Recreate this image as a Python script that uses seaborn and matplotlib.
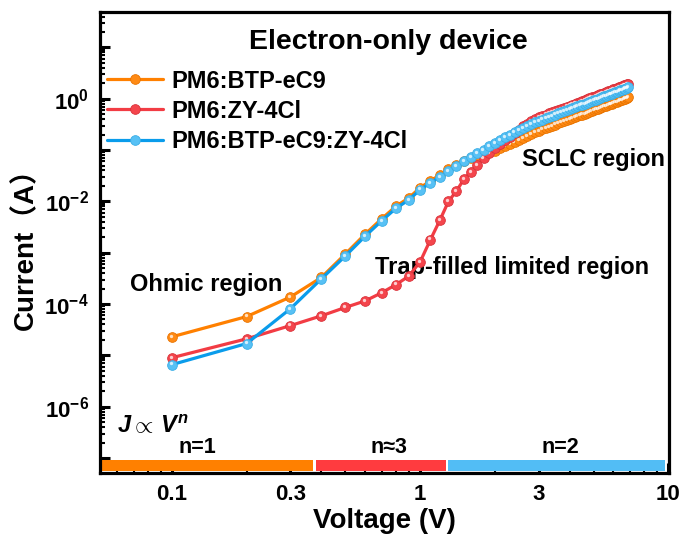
import numpy as np
import pandas as pd
import matplotlib
matplotlib.use("Agg")
import matplotlib.pyplot as plt
import matplotlib.transforms as mtransforms
from matplotlib.lines import Line2D
from matplotlib.ticker import LogLocator, FixedLocator, FuncFormatter, NullFormatter
import seaborn as sns

# ---------------- data ----------------
voltage = [0.1, 0.2, 0.3, 0.4, 0.5, 0.6, 0.7, 0.8, 0.9, 1.0,
           1.1, 1.2, 1.3, 1.4, 1.5, 1.6, 1.7, 1.8, 1.9, 2.0,
           2.1, 2.2, 2.3, 2.4, 2.5, 2.6, 2.7, 2.8, 2.9, 3.0,
           3.1, 3.2, 3.3, 3.4, 3.5, 3.6, 3.7, 3.8, 3.9, 4.0,
           4.1, 4.2, 4.3, 4.4, 4.5, 4.6, 4.7, 4.8, 4.9, 5.0,
           5.1, 5.2, 5.3, 5.4, 5.5, 5.6, 5.7, 5.8, 5.9, 6.0,
           6.1, 6.2, 6.3, 6.4, 6.5, 6.6, 6.7, 6.8, 6.9]

current_btp = [2.3e-5, 5.7e-5, 1.37e-4, 3.3e-4, 9.5e-4, 2.3e-3, 4.6e-3, 8.1e-3, 1.17e-2, 1.86e-2,
               2.5e-2, 3.3e-2, 4.2e-2, 5.1e-2, 6.2e-2, 7.1e-2, 7.9e-2, 8.7e-2, 9.3e-2, 0.0975,
               0.1085, 0.120, 0.133, 0.146, 0.159, 0.174, 0.189, 0.204, 0.221, 0.238,
               0.252, 0.267, 0.282, 0.298, 0.314, 0.330, 0.347, 0.364, 0.381, 0.399,
               0.417, 0.436, 0.454, 0.474, 0.493, 0.513, 0.534, 0.554, 0.575, 0.596,
               0.618, 0.640, 0.662, 0.685, 0.708, 0.732, 0.755, 0.779, 0.803, 0.828,
               0.853, 0.878, 0.904, 0.930, 0.956, 0.983, 1.010, 1.037, 1.064]

current_zy = [9.0e-6, 2.1e-5, 3.8e-5, 5.9e-5, 8.6e-5, 1.15e-4, 1.66e-4, 2.4e-4, 3.5e-4, 6.7e-4,
              1.8e-3, 4.3e-3, 1.0e-2, 1.6e-2, 2.7e-2, 3.8e-2, 5.2e-2, 6.9e-2, 8.9e-2, 0.108,
              0.130, 0.155, 0.183, 0.215, 0.250, 0.288, 0.326, 0.366, 0.402, 0.436,
              0.465, 0.492, 0.520, 0.550, 0.579, 0.609, 0.640, 0.671, 0.703, 0.736,
              0.769, 0.804, 0.838, 0.873, 0.910, 0.946, 0.984, 1.022, 1.061, 1.100,
              1.140, 1.180, 1.221, 1.263, 1.306, 1.349, 1.392, 1.436, 1.481, 1.527,
              1.573, 1.619, 1.667, 1.715, 1.763, 1.812, 1.862, 1.913, 1.962]

current_blend = [6.6e-6, 1.7e-5, 8.1e-5, 3.1e-4, 8.7e-4, 2.1e-3, 4.2e-3, 7.4e-3, 1.07e-2, 1.7e-2,
                 2.29e-2, 3.02e-2, 3.89e-2, 4.9e-2, 6.03e-2, 7.24e-2, 8.71e-2, 0.102, 0.120, 0.138,
                 0.158, 0.178, 0.200, 0.221, 0.245, 0.269, 0.295, 0.320, 0.347, 0.372,
                 0.394, 0.417, 0.441, 0.466, 0.491, 0.516, 0.542, 0.569, 0.596, 0.624,
                 0.652, 0.681, 0.710, 0.740, 0.771, 0.802, 0.834, 0.866, 0.899, 0.932,
                 0.966, 1.000, 1.035, 1.070, 1.107, 1.143, 1.180, 1.217, 1.255, 1.294,
                 1.333, 1.372, 1.413, 1.453, 1.494, 1.536, 1.578, 1.621, 1.663]

series_labels = ["PM6:BTP-eC9", "PM6:ZY-4Cl", "PM6:BTP-eC9:ZY-4Cl"]
line_colors = ["#FF8000", "#F23C44", "#0A9CEB"]
marker_colors = ["#FF8A14", "#F4454C", "#57C1F5"]
edge_colors = ["#E87400", "#D9323A", "#3AAEE6"]

region_labels = ["n=1", "n\u22483", "n=2"]
region_edges = [0.0524, 0.375, 1.28, 9.66]
region_colors = ["#FF8000", "#FF3B3F", "#52BDF5"]
region_label_x = [0.127, 0.75, 3.68]

x_ticks = [0.1, 0.3, 1, 3, 10]
x_tick_labels = ["0.1", "0.3", "1", "3", "10"]

# ---------------- style ----------------
sns.set_theme(style="ticks")
plt.rcParams.update({
    "font.family": ["Liberation Sans", "Noto Sans CJK SC", "DejaVu Sans"],
    "font.weight": "bold",
    "axes.labelweight": "bold",
    "text.color": "black",
    "axes.labelcolor": "black",
    "xtick.color": "black",
    "ytick.color": "black",
    "mathtext.fontset": "custom",
    "mathtext.rm": "Liberation Sans:bold",
    "mathtext.it": "Liberation Sans:italic:bold",
    "mathtext.bf": "Liberation Sans:bold",
    "mathtext.sf": "Liberation Sans:bold",
    "axes.linewidth": 2.3,
    "axes.edgecolor": "black",
})

fig = plt.figure(figsize=(6.84, 5.40), dpi=100)
ax = fig.add_axes([100 / 684, 1 - 473 / 540, 569 / 684, 461 / 540])
ax.set_xscale("log")
ax.set_yscale("log")

series = [current_btp, current_zy, current_blend]
for i, cur in enumerate(series):
    sns.lineplot(x=voltage, y=cur, ax=ax, color=line_colors[i], linewidth=2.3,
                 marker="o", markersize=7, markerfacecolor=marker_colors[i],
                 markeredgecolor=edge_colors[i], markeredgewidth=0.6,
                 zorder=3 + 2 * i, legend=False)
    hl = mtransforms.offset_copy(ax.transData, fig=fig, x=-0.8, y=0.8, units="points")
    ax.plot(voltage, cur, "o", ms=2.4, color="white", alpha=0.75, mew=0,
            transform=hl, zorder=4 + 2 * i)

# bottom region bars
gap = 1.012
for i in range(3):
    ax.axvspan(region_edges[i] * (gap if i > 0 else 1.0),
               region_edges[i + 1] / (gap if i < 2 else 1.0),
               ymin=0.005, ymax=0.028, color=region_colors[i], lw=0, zorder=2)
    ax.text(region_label_x[i], 0.056, region_labels[i], transform=ax.get_xaxis_transform(),
            ha="center", va="center", fontsize=15.5, fontweight="bold", color="black")

ax.text(0.0601, 0.10, r"$J\propto\,V^{n}$", transform=ax.get_xaxis_transform(),
        ha="left", va="center", fontsize=17, color="black")

# annotations
ax.text(0.506, 0.936, "Electron-only device", transform=ax.transAxes,
        ha="center", va="center", fontsize=20.5, fontweight="bold", color="black")
ax.text(0.137, 2.4e-4, "Ohmic region", ha="center", va="center", fontsize=17,
        fontweight="bold", color="black")
ax.text(2.34, 5.1e-4, "Trap-filled limited region", ha="center", va="center",
        fontsize=17, fontweight="bold", color="black")
ax.text(5.0, 0.065, "SCLC region", ha="center", va="center", fontsize=17,
        fontweight="bold", color="black")

# axes
ax.set_xlim(0.0513, 10.05)
ax.set_ylim(5.1e-8, 49)
ax.xaxis.set_major_locator(FixedLocator(x_ticks))
ax.xaxis.set_major_formatter(FuncFormatter(lambda v, p: x_tick_labels[x_ticks.index(v)] if v in x_ticks else ""))
ax.xaxis.set_minor_locator(LogLocator(base=10, subs=np.arange(2, 10), numticks=20))
ax.xaxis.set_minor_formatter(NullFormatter())
ax.yaxis.set_major_locator(LogLocator(base=10, numticks=20))
ax.yaxis.set_major_formatter(FuncFormatter(
    lambda v, p: (r"$10^{%d}$" % int(round(np.log10(v)))) if int(round(np.log10(v))) % 2 == 0 else ""))
ax.yaxis.set_minor_locator(LogLocator(base=10, subs=np.arange(2, 10), numticks=20))
ax.yaxis.set_minor_formatter(NullFormatter())

ax.tick_params(axis="both", which="major", direction="in", length=7, width=2.2,
               labelsize=16, pad=8, top=False, right=False, colors="black")
ax.tick_params(axis="both", which="minor", direction="in", length=3.5, width=1.5,
               top=False, right=False, colors="black")
for lab in ax.get_xticklabels() + ax.get_yticklabels():
    lab.set_fontweight("bold")

ax.set_xlabel("Voltage (V)", fontsize=20, fontweight="bold", labelpad=2, color="black")
ax.set_ylabel("Current\uff08A\uff09", fontsize=20, fontweight="bold", labelpad=4, color="black")

handles = [Line2D([], [], color=line_colors[i], lw=2.3, marker="o", ms=7,
                  mfc=marker_colors[i], mec=edge_colors[i], mew=0.6) for i in range(3)]
leg = ax.legend(handles, series_labels, loc="upper left", bbox_to_anchor=(0.012, 0.875),
                frameon=False, handlelength=2.4, handletextpad=0.35,
                labelspacing=0.3, borderaxespad=0, borderpad=0,
                prop={"weight": "bold", "size": 17})
for t in leg.get_texts():
    t.set_color("black")

fig.savefig("out.png", dpi=100)
